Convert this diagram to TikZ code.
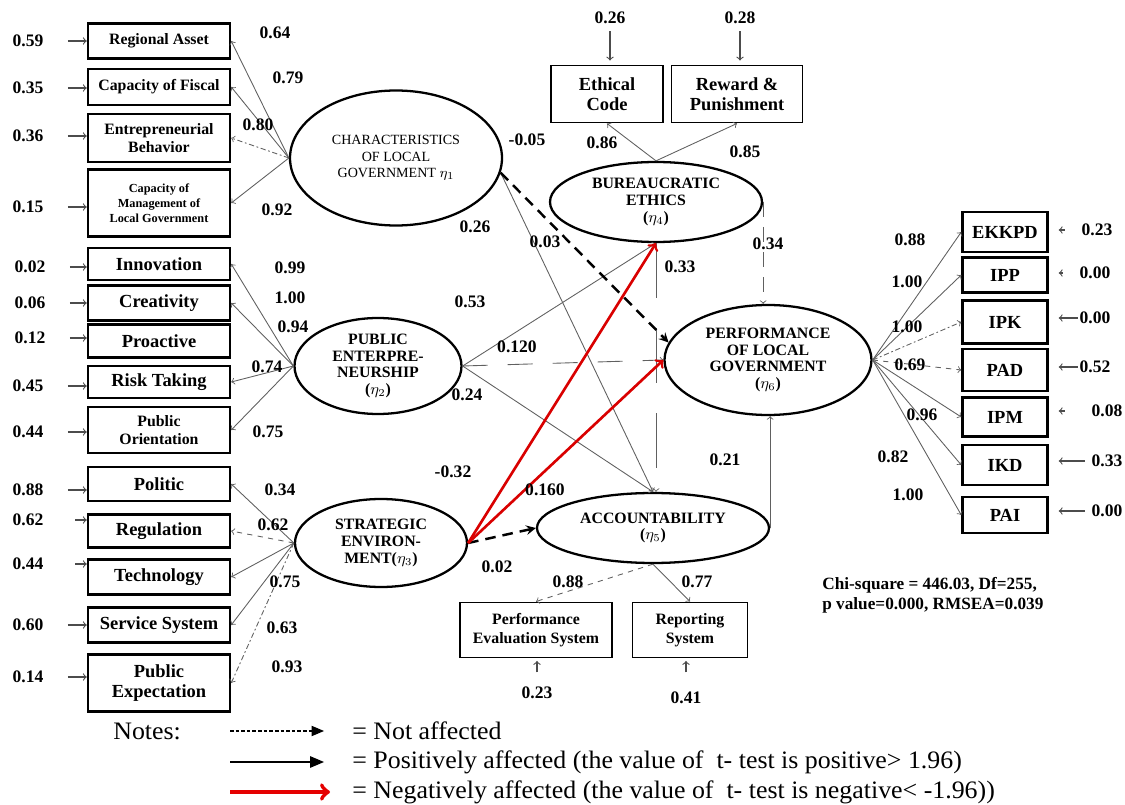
\documentclass[tikz,border=0pt]{standalone}
\usepackage{fontspec}
\setmainfont{Liberation Serif}
\newfontfamily\legendfont[FakeStretch=1.03]{Liberation Serif}
\usepackage{tikz}
\tikzstyle{block}=[draw, line width=1.4pt, fill=white, align=center, inner sep=1pt, font=\bfseries\fontsize{10.5}{11.5}\selectfont]
\tikzstyle{latent}=[ellipse, draw, line width=1.3pt, align=center, inner sep=0pt, font=\bfseries\fontsize{9}{9.6}\selectfont]
\tikzstyle{num}=[inner sep=1pt, font=\bfseries\fontsize{10}{11}\selectfont]
\tikzstyle{load}=[draw=gray!75!black, ->, >=to, line width=0.5pt]
\tikzstyle{err}=[draw=gray!60!black, ->, >=to, line width=0.6pt]
\tikzstyle{arrow}=[->, >=stealth, line width=1.4pt, dash pattern=on 6pt off 4pt]
\tikzstyle{neg}=[draw=red!85!black, ->, >=to, line width=1.5pt]
\tikzstyle{legend}=[anchor=west, inner sep=0pt, font=\legendfont\fontsize{14.3}{16}\selectfont]
\usetikzlibrary{shapes.geometric,arrows,positioning,calc}

\begin{document}
\begin{tikzpicture}[x=0.2mm,y=-0.2mm]
\useasboundingbox (0,0) rectangle (1125,805);
\node (ra) [block, minimum width=28.4mm, minimum height=7mm, font=\bfseries\fontsize{9}{10}\selectfont] at (159,41) {Regional Asset};
\node (cf) [block, minimum width=28.4mm, minimum height=7.2mm, font=\bfseries\fontsize{9}{10}\selectfont] at (159,87) {Capacity of Fiscal};
\node (eb) [block, minimum width=28.4mm, minimum height=9.6mm, font=\bfseries\fontsize{9}{10}\selectfont] at (159,138) {Entrepreneurial\\Behavior};
\node (cm) [block, minimum width=28.4mm, minimum height=13.4mm, font=\bfseries\fontsize{7}{8.5}\selectfont] at (159,203) {Capacity of\\Management of\\Local Government};
\node (inn) [block, minimum width=28.4mm, minimum height=6.4mm] at (159,264) {Innovation};
\node (cre) [block, minimum width=28.4mm, minimum height=7mm] at (159,303) {Creativity};
\node (pro) [block, minimum width=28.4mm, minimum height=6.6mm] at (159,341) {Proactive};
\node (rt) [block, minimum width=28.4mm, minimum height=6.4mm] at (159,382) {Risk Taking};
\node (po) [block, minimum width=28.4mm, minimum height=9.2mm, font=\bfseries\fontsize{9}{10.5}\selectfont] at (159,430) {Public\\Orientation};
\node (pol) [block, minimum width=28.4mm, minimum height=6.8mm] at (159,484) {Politic};
\node (reg) [block, minimum width=28.4mm, minimum height=6.6mm] at (159,531) {Regulation};
\node (tec) [block, minimum width=28.4mm, minimum height=7mm] at (159,577) {Technology};
\node (ss) [block, minimum width=28.4mm, minimum height=7mm] at (159,625) {Service System};
\node (pe) [block, minimum width=28.4mm, minimum height=11.4mm] at (159,683) {Public\\Expectation};

\node (char) [latent, minimum width=42.4mm, minimum height=27mm, font=\fontsize{8}{9.5}\selectfont] at (396,158) {CHARACTERISTICS\\OF LOCAL\\GOVERNMENT $\eta_1$};
\node (pub) [latent, minimum width=33.4mm, minimum height=19.2mm] at (378,366) {PUBLIC\\ENTERPRE-\\NEURSHIP\\($\eta_2$)};
\node (strat) [latent, minimum width=34.4mm, minimum height=17.6mm] at (381,543) {STRATEGIC\\ENVIRON-\\MENT($\eta_3$)};
\node (bur) [latent, minimum width=42.4mm, minimum height=16mm] at (656,202) {BUREAUCRATIC\\ETHICS\\($\eta_4$)};
\node (perf) [latent, minimum width=41.4mm, minimum height=22mm] at (768,360) {PERFORMANCE\\OF LOCAL\\GOVERNMENT\\($\eta_6$)};
\node (acc) [latent, minimum width=46.4mm, minimum height=14mm] at (653,528) {ACCOUNTABILITY\\($\eta_5$)};

\node (ec) [block, line width=1.1pt, minimum width=22.4mm, minimum height=11.4mm] at (607,94) {Ethical\\Code};
\node (rp) [block, line width=1.1pt, minimum width=26.2mm, minimum height=11.4mm] at (737,94) {Reward \&\\Punishment};
\node (pes) [block, line width=1.1pt, minimum width=30.4mm, minimum height=11mm, font=\bfseries\fontsize{9}{10.5}\selectfont] at (536,630) {Performance\\Evaluation System};
\node (rs) [block, line width=1.1pt, minimum width=23mm, minimum height=11mm, font=\bfseries\fontsize{9}{10.5}\selectfont] at (690,630) {Reporting\\System};

\node (ek) [block, minimum width=17mm, minimum height=8mm] at (1005,232) {EKKPD};
\node (ipp) [block, minimum width=17mm, minimum height=7mm] at (1005,275) {IPP};
\node (ipk) [block, minimum width=17mm, minimum height=8.6mm] at (1005,322) {IPK};
\node (pad) [block, minimum width=17mm, minimum height=8.4mm] at (1005,370) {PAD};
\node (ipm) [block, minimum width=17mm, minimum height=7.8mm] at (1005,417) {IPM};
\node (ikd) [block, minimum width=17mm, minimum height=8mm] at (1005,465) {IKD};
\node (pai) [block, minimum width=17mm, minimum height=7.2mm] at (1005,515) {PAI};

\draw[load] (char.west)--(ra.east);
\draw[load] (char.west)--(cf.east);
\draw[load, dash pattern=on 3pt off 1.5pt on 1pt off 1.5pt] (char.west)--(eb.east);
\draw[load] (char.west)--(cm.east);
\draw[load] (pub.west)--(inn.east);
\draw[load] (pub.west)--(cre.east);
\draw[load] (pub.west)--(rt.east);
\draw[load] (pub.west)--(po.east);
\draw[load] (strat.west)--(pol.east);
\draw[load, dashed] (strat.west)--(reg.east);
\draw[load] (strat.west)--(tec.east);
\draw[load] (strat.west)--(ss.east);
\draw[load, dash pattern=on 3pt off 1.5pt on 1pt off 1.5pt] (strat.west)--(pe.east);
\draw[load] (bur.north)--(ec.south);
\draw[load] (bur.north)--(rp.south);
\draw[load, dashed] (acc.south)--(pes.north);
\draw[load] (acc.south)--(rs.north);
\draw[load] (perf.east)--(ek.west);
\draw[load] (perf.east)--(ipp.west);
\draw[load, dash pattern=on 3pt off 1.5pt on 1pt off 1.5pt] (perf.east)--(ipk.west);
\draw[load, dashed] (perf.east)--(pad.west);
\draw[load] (perf.east)--(ipm.west);
\draw[load] (perf.east)--(ikd.west);
\draw[load] (perf.east)--(pai.west);

\draw[load] (char.-8)--(acc.north);
\draw[load] (pub.east)--(bur.south);
\draw[load] (pub.east)--(acc.north);
\draw[load, dash pattern=on 5mm off 4mm] (pub.east)--(perf.west);
\draw[load, dash pattern=on 11mm off 6mm] (bur.south)--(bur.south |- acc.north);
\draw[load, dash pattern=on 3mm off 2mm] (bur.east)--(bur.east |- perf.north);
\draw[load] (acc.east)--(acc.east |- perf.south);
\draw[arrow] (char.-8)--(perf.170);
\draw[arrow] (strat.east)--(acc.west);
\draw[neg] (strat.east)--(bur.south);
\draw[neg] (strat.east)--(perf.west);

\node (n1) [num] at (275,33) {0.64};
\node (n2) [num] at (288,78) {0.79};
\node (n3) [num] at (258,125) {0.80};
\node (n4) [num] at (277,210) {0.92};
\node (n5) [num] at (290,268) {0.99};
\node (n6) [num] at (290,298) {1.00};
\node (n7) [num] at (293,327) {0.94};
\node (n8) [num] at (267,367) {0.74};
\node (n9) [num] at (268,432) {0.75};
\node (n10) [num] at (280,490) {0.34};
\node (n11) [num] at (273,525) {0.62};
\node (n12) [num] at (285,582) {0.75};
\node (n13) [num] at (282,628) {0.63};
\node (n14) [num] at (287,667) {0.93};
\node (s1) [num] at (527,140) {-0.05};
\node (s2) [num] at (475,227) {0.26};
\node (s3) [num] at (545,242) {0.03};
\node (s4) [num] at (470,302) {0.53};
\node (s5) [num] at (517,347) {0.120};
\node (s6) [num] at (467,395) {0.24};
\node (s7) [num] at (453,472) {-0.32};
\node (s8) [num] at (545,490) {0.160};
\node (s9) [num] at (497,567) {0.02};
\node (s10) [num] at (680,267) {0.33};
\node (s11) [num] at (768,244) {0.34};
\node (s12) [num] at (725,460) {0.21};
\node (s13) [num] at (602,143) {0.86};
\node (s14) [num] at (745,152) {0.85};
\node (s15) [num] at (568,582) {0.88};
\node (s16) [num] at (697,582) {0.77};
\node (m1) [num] at (910,240) {0.88};
\node (m2) [num] at (907,282) {1.00};
\node (m3) [num] at (907,327) {1.00};
\node (m4) [num] at (910,365) {0.69};
\node (m5) [num] at (922,415) {0.96};
\node (m6) [num] at (893,457) {0.82};
\node (m7) [num] at (908,495) {1.00};

\node (e1) [num] at (28,41) {0.59};
\node (e2) [num] at (28,88) {0.35};
\node (e3) [num] at (28,136) {0.36};
\node (e4) [num] at (28,207) {0.15};
\node (e5) [num] at (30,267) {0.02};
\node (e6) [num] at (30,303) {0.06};
\node (e7) [num] at (30,338) {0.12};
\node (e8) [num] at (28,386) {0.45};
\node (e9) [num] at (28,432) {0.44};
\node (e10) [num] at (28,490) {0.88};
\node (e11) [num] at (28,520) {0.62};
\node (e12) [num] at (28,564) {0.44};
\node (e13) [num] at (28,625) {0.60};
\node (e14) [num] at (28,677) {0.14};
\draw[err, shorten <=4.5mm] (e1.east)--(e1.east -| ra.west);
\draw[err, shorten <=4.5mm] (e2.east)--(e2.east -| cf.west);
\draw[err, shorten <=4.5mm] (e3.east)--(e3.east -| eb.west);
\draw[err, shorten <=4.5mm] (e4.east)--(e4.east -| cm.west);
\draw[err, shorten <=4.5mm] (e5.east)--(e5.east -| inn.west);
\draw[err, shorten <=4.5mm] (e6.east)--(e6.east -| cre.west);
\draw[err, shorten <=4.5mm] (e7.east)--(e7.east -| pro.west);
\draw[err, shorten <=4.5mm] (e8.east)--(e8.east -| rt.west);
\draw[err, shorten <=4.5mm] (e9.east)--(e9.east -| po.west);
\draw[err, shorten <=4.5mm] (e10.east)--(e10.east -| pol.west);
\draw[err, shorten <=6mm] (e11.east)--(e11.east -| reg.west);
\draw[err, shorten <=6mm] (e12.east)--(e12.east -| tec.west);
\draw[err, shorten <=4.5mm] (e13.east)--(e13.east -| ss.west);
\draw[err, shorten <=4.5mm] (e14.east)--(e14.east -| pe.west);

\node (r1) [num] at (1097,230) {0.23};
\node (r2) [num] at (1095,273) {0.00};
\node (r3) [num] at (1095,318) {0.00};
\node (r4) [num] at (1095,367) {0.52};
\node (r5) [num] at (1107,411) {0.08};
\node (r6) [num] at (1107,461) {0.33};
\node (r7) [num] at (1107,511) {0.00};
\draw[err, shorten <=3mm, shorten >=2mm] (r1.west)--(r1.west -| ek.east);
\draw[err, shorten <=3mm, shorten >=2mm] (r2.west)--(r2.west -| ipp.east);
\draw[err, shorten >=2mm] (r3.west)--(r3.west -| ipk.east);
\draw[err, shorten >=2mm] (r4.west)--(r4.west -| pad.east);
\draw[err, shorten <=5mm, shorten >=2mm] (r5.west)--(r5.west -| ipm.east);
\draw[err, shorten <=1mm, shorten >=2mm] (r6.west)--(r6.west -| ikd.east);
\draw[err, shorten <=1mm, shorten >=2mm] (r7.west)--(r7.west -| pai.east);

\node (t1) [num] at (610,18) {0.26};
\node (t2) [num] at (740,18) {0.28};
\draw[err, shorten <=1mm, shorten >=0.8mm] (t1.south)--(t1.south |- ec.north);
\draw[err, shorten <=1mm, shorten >=0.8mm] (t2.south)--(t2.south |- rp.north);
\node (b1) [num] at (537,693) {0.23};
\node (b2) [num] at (686,698) {0.41};
\draw[err, shorten <=2.5mm, shorten >=0.5mm] (b1.north)--(b1.north |- pes.south);
\draw[err, shorten <=3.5mm, shorten >=0.5mm] (b2.north)--(b2.north |- rs.south);

\node (fit) [anchor=west, align=left, inner sep=0pt, font=\bfseries\fontsize{9.8}{11.5}\selectfont] at (822,595) {Chi-square = 446.03, Df=255,\\p value=0.000, RMSEA=0.039};

\node (notes) [legend] at (113,731) {Notes:};
\coordinate (l1a) at (230,731);
\coordinate (l1b) at (324,731);
\coordinate (l2a) at (230,762);
\coordinate (l2b) at (324,762);
\coordinate (l3a) at (230,792);
\coordinate (l3b) at (330,792);
\draw[->, >=triangle 45, dash pattern=on 2pt off 1.2pt, line width=0.6pt] (l1a)--(l1b);
\draw[->, >=triangle 45, line width=0.8pt] (l2a)--(l2b);
\draw[->, >=to, draw=red!90!black, line width=2.4pt] (l3a)--(l3b);
\node (t1l) [legend] at (352,731) {= Not affected};
\node (t2l) [legend] at (352,762) {= Positively affected (the value of\ \ t- test is positive> 1.96)};
\node (t3l) [legend] at (352,792) {= Negatively affected (the value of\ \ t- test is negative< -1.96))};
\end{tikzpicture}
\end{document}
